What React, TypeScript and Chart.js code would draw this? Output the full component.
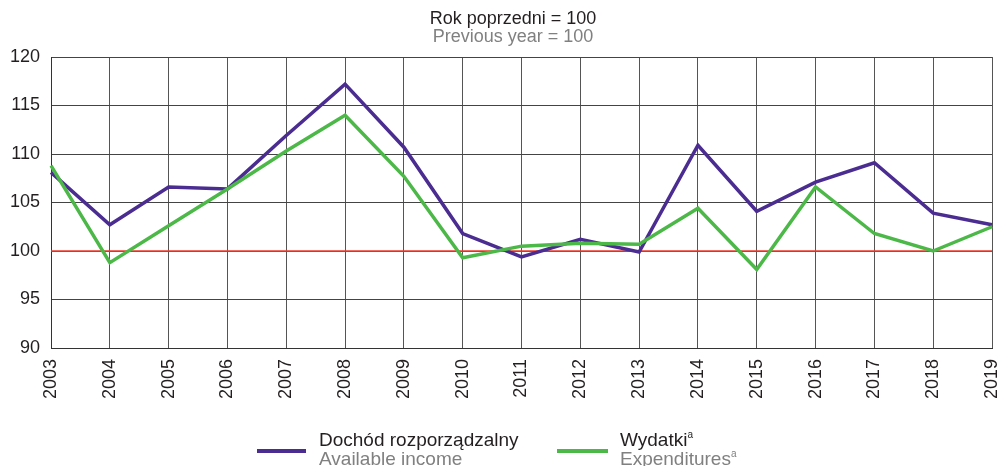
import React, { useEffect, useRef } from "react";
import { Chart, registerables } from "chart.js";

Chart.register(...registerables);

const years = ["2003","2004","2005","2006","2007","2008","2009","2010","2011","2012","2013","2014","2015","2016","2017","2018","2019"];
const availableIncome = [108.1, 102.7, 106.6, 106.4, 111.9, 117.2, 110.7, 101.8, 99.4, 101.2, 99.9, 110.9, 104.1, 107.1, 109.1, 103.9, 102.7];
const expenditures = [108.8, 98.8, 102.6, 106.4, 110.3, 114.0, 107.7, 99.3, 100.5, 100.8, 100.7, 104.4, 98.1, 106.6, 101.8, 100.0, 102.5];
const referenceValue = 100;
const yMin = 90;
const yMax = 120;
const yStep = 5;

const FONT = "'Liberation Sans', Arial, Helvetica, sans-serif";
const PURPLE = "#4b2c91";
const GREEN = "#4cb848";
const RED = "#ee3b2e";

const refLinePlugin = {
  id: "refLine",
  beforeDatasetsDraw(chart: any) {
    const { ctx, chartArea, scales } = chart;
    const y = scales.y.getPixelForValue(referenceValue);
    ctx.save();
    ctx.strokeStyle = RED;
    ctx.lineWidth = 1.5;
    ctx.beginPath();
    ctx.moveTo(chartArea.left, y);
    ctx.lineTo(chartArea.right, y);
    ctx.stroke();
    ctx.restore();
  },
};

export default function App() {
  const ref = useRef<HTMLCanvasElement | null>(null);

  useEffect(() => {
    document.body.style.margin = "0";
    const canvas = ref.current;
    if (!canvas) return;
    const chart = new Chart(canvas, {
      type: "line",
      data: {
        labels: years,
        datasets: [
          {
            label: "Wydatki",
            data: expenditures,
            borderColor: GREEN,
            borderWidth: 3.5,
            pointRadius: 0,
            tension: 0,
            fill: false,
          },
          {
            label: "Dochód rozporządzalny",
            data: availableIncome,
            borderColor: PURPLE,
            borderWidth: 3.5,
            pointRadius: 0,
            tension: 0,
            fill: false,
          },
        ],
      },
      options: {
        animation: false,
        responsive: false,
        maintainAspectRatio: false,
        layout: { padding: { top: 57, right: 6, left: 0, bottom: 58 } },
        plugins: {
          legend: { display: false },
          title: { display: false },
          tooltip: { enabled: false },
        },
        scales: {
          x: {
            offset: false,
            grid: { color: "#555", lineWidth: 1, drawTicks: false },
            border: { color: "#333", width: 1 },
            ticks: {
              minRotation: 90,
              maxRotation: 90,
              autoSkip: false,
              padding: 11,
              color: "#231f20",
              font: { family: FONT, size: 18 },
            },
            afterFit(scale: any) {
              scale.height = 60;
              scale.paddingLeft = 0;
              scale.paddingRight = 0;
            },
          },
          y: {
            min: yMin,
            max: yMax,
            grid: { color: "#444", lineWidth: 1, drawTicks: false },
            border: { color: "#333", width: 1 },
            ticks: {
              stepSize: yStep,
              padding: 11,
              color: "#231f20",
              font: { family: FONT, size: 18 },
            },
            afterFit(scale: any) {
              scale.width = 51;
              scale.paddingTop = 0;
              scale.paddingBottom = 0;
            },
          },
        },
      },
      plugins: [refLinePlugin],
    } as any);
    return () => chart.destroy();
  }, []);

  const titleText: React.CSSProperties = {
    position: "absolute",
    fontFamily: FONT,
    fontSize: 18,
    lineHeight: "17px",
    whiteSpace: "nowrap",
  };
  const legendText: React.CSSProperties = {
    position: "absolute",
    fontFamily: FONT,
    fontSize: 19,
    lineHeight: "19px",
    whiteSpace: "nowrap",
  };
  const supStyle: React.CSSProperties = { fontSize: 10, verticalAlign: "top", lineHeight: "10px", position: "relative", top: 0 };

  return (
    <div style={{ position: "relative", width: 998, height: 466, background: "#fff", overflow: "hidden" }}>
      <canvas ref={ref} width={998} height={466} style={{ position: "absolute", left: 0, top: 0, width: 998, height: 466 }} />
      <div style={{ ...titleText, left: 0, width: 1026, top: 10, textAlign: "center", color: "#231f20" }}>Rok poprzedni = 100</div>
      <div style={{ ...titleText, left: 0, width: 1026, top: 28, textAlign: "center", color: "#808080" }}>Previous year = 100</div>

      <div style={{ position: "absolute", left: 257, top: 449, width: 49, height: 4, background: PURPLE }} />
      <div style={{ ...legendText, left: 319, top: 430, color: "#231f20" }}>Dochód rozporządzalny</div>
      <div style={{ ...legendText, left: 319, top: 449, color: "#808080" }}>Available income</div>

      <div style={{ position: "absolute", left: 557, top: 449, width: 51, height: 4, background: GREEN }} />
      <div style={{ ...legendText, left: 620, top: 430, color: "#231f20" }}>
        Wydatki<sup style={supStyle}>a</sup>
      </div>
      <div style={{ ...legendText, left: 620, top: 449, color: "#808080" }}>
        Expenditures<sup style={supStyle}>a</sup>
      </div>
    </div>
  );
}
